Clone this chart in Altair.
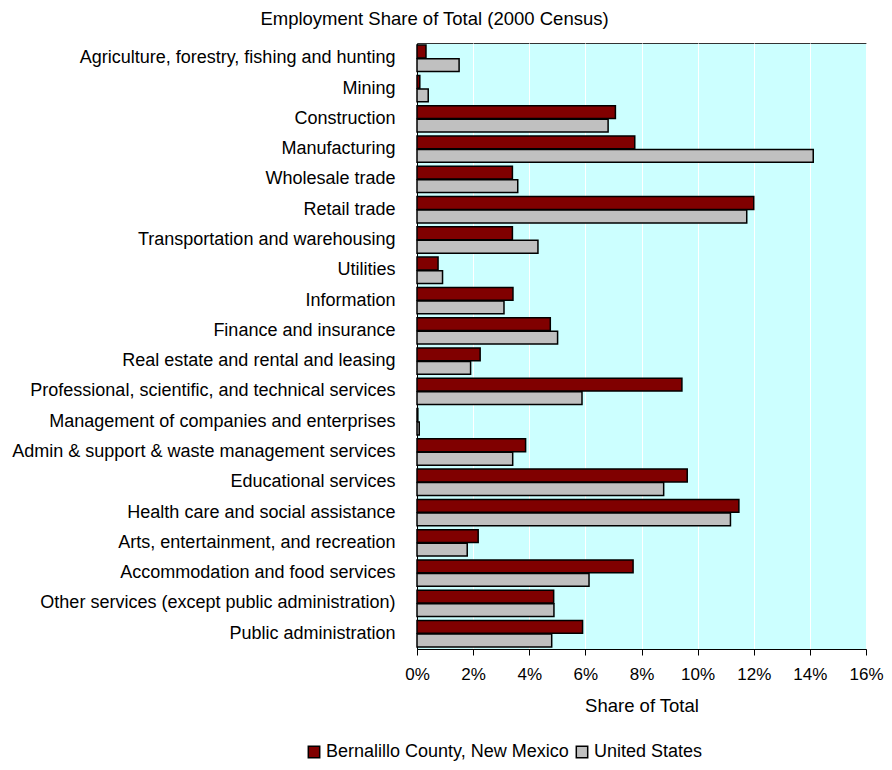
import altair as alt
import pandas as pd

categories = [
    "Agriculture, forestry, fishing and hunting",
    "Mining",
    "Construction",
    "Manufacturing",
    "Wholesale trade",
    "Retail trade",
    "Transportation and warehousing",
    "Utilities",
    "Information",
    "Finance and insurance",
    "Real estate and rental and leasing",
    "Professional, scientific, and technical services",
    "Management of companies and enterprises",
    "Admin & support & waste management services",
    "Educational services",
    "Health care and social assistance",
    "Arts, entertainment, and recreation",
    "Accommodation and food services",
    "Other services (except public administration)",
    "Public administration",
]
bernalillo = [0.32, 0.10, 7.07, 7.76, 3.40, 12.00, 3.40, 0.75, 3.42, 4.75,
              2.25, 9.44, 0.03, 3.87, 9.63, 11.47, 2.18, 7.70, 4.87, 5.90]
united_states = [1.50, 0.40, 6.81, 14.12, 3.59, 11.75, 4.31, 0.91, 3.10, 5.01,
                 1.91, 5.88, 0.08, 3.41, 8.79, 11.17, 1.79, 6.13, 4.88, 4.80]
series = ["Bernalillo County, New Mexico", "United States"]
colors = ["#800000", "#C0C0C0"]
ticks = [0, 2, 4, 6, 8, 10, 12, 14, 16]

rows = []
for c, a, b in zip(categories, bernalillo, united_states):
    rows.append({"Industry": c, "Series": series[0], "Share": a})
    rows.append({"Industry": c, "Series": series[1], "Share": b})
df = pd.DataFrame(rows)

FONT = "Liberation Sans"

chart = alt.Chart(df).mark_bar(stroke="black", strokeWidth=1.5).encode(
    x=alt.X("Share:Q",
            scale=alt.Scale(domain=[0, 16], nice=False),
            axis=alt.Axis(values=ticks, labelExpr="datum.value + '%'",
                          title="Share of Total", grid=True, gridColor="white",
                          gridWidth=1, tickSize=6, tickColor="black",
                          domainColor="black", labelPadding=11,
                          labelFlush=False, titlePadding=14,
                          labelFontSize=17, titleFontSize=18.5,
                          titleFontWeight="normal", labelColor="black",
                          titleColor="black", labelFont=FONT, titleFont=FONT)),
    y=alt.Y("Industry:N", sort=categories,
            scale=alt.Scale(paddingInner=0.13, paddingOuter=0.07),
            axis=alt.Axis(title=None, ticks=False, labelPadding=22,
                          labelFontSize=18, labelFont=FONT, labelColor="black",
                          domainColor="black", labelLimit=500)),
    yOffset=alt.YOffset("Series:N", sort=series,
                        scale=alt.Scale(paddingInner=0.05)),
    color=alt.Color("Series:N", sort=series,
                    scale=alt.Scale(domain=series, range=colors),
                    legend=alt.Legend(title=None, orient="none",
                                      legendX=-112, legendY=700,
                                      direction="horizontal",
                                      symbolType="square", symbolSize=130,
                                      symbolStrokeColor="black",
                                      symbolStrokeWidth=1.5,
                                      labelFontSize=18, labelFont=FONT,
                                      labelColor="black", columnPadding=4,
                                      labelLimit=0, labelOffset=3,
                                      symbolOpacity=1)),
).properties(
    width=449,
    height=606,
    title=alt.TitleParams("Employment Share of Total (2000 Census)",
                          fontSize=18.5, font=FONT, fontWeight="normal",
                          anchor="middle", dx=-207, offset=15, color="black"),
    autosize=alt.AutoSizeParams(type="none"),
    padding={"left": 409, "top": 35, "right": 18, "bottom": 112},
).configure_view(
    fill="#CCFFFF", stroke="#333333", strokeWidth=1
)

chart.save("out.html", embed_options={"renderer": "svg", "actions": False})
